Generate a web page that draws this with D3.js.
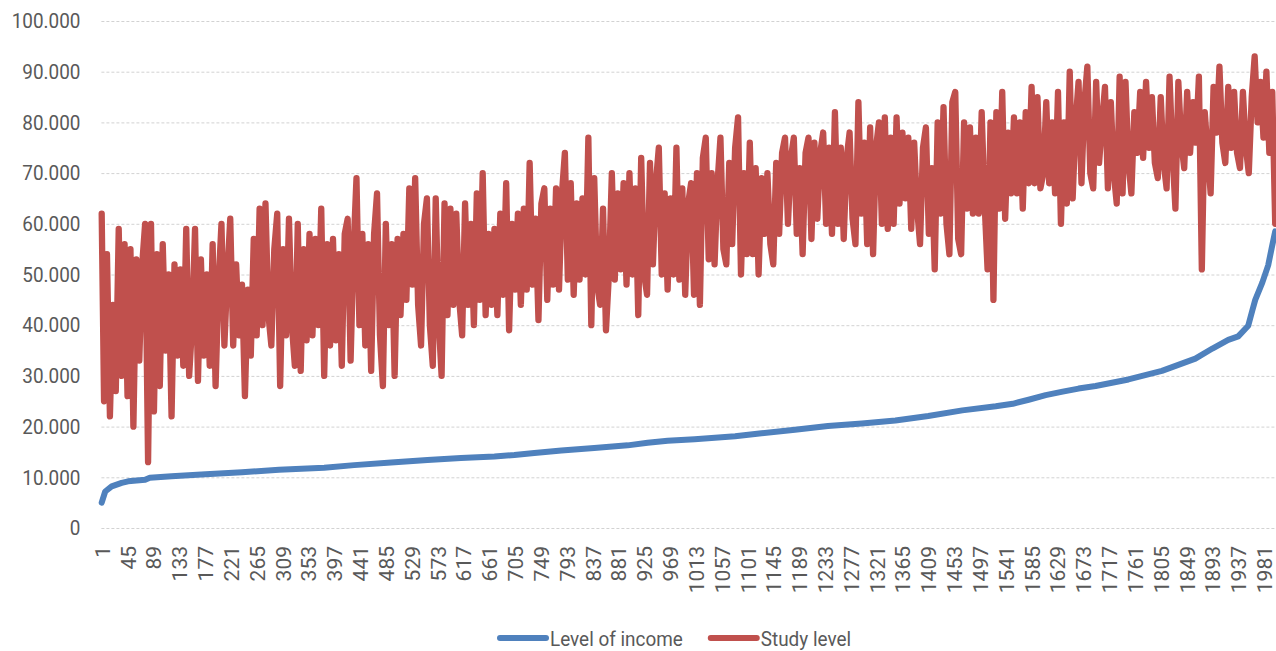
<!DOCTYPE html>
<html>
<head>
<meta charset="utf-8">
<script src="https://cdn.jsdelivr.net/npm/d3@7"></script>
<style>
body { margin: 0; background: #fff; }
svg text { font-family: Roboto, "Open Sans", sans-serif; }
</style>
</head>
<body>
<svg id="chart" width="1276" height="651"></svg>
<script>
// values in thousands (10 -> "10.000")
var yTicks = [0, 10, 20, 30, 40, 50, 60, 70, 80, 90, 100];

var xTickCats = [1, 45, 89, 133, 177, 221, 265, 309, 353, 397, 441, 485, 529, 573, 617, 661, 705, 749, 793, 837, 881, 925, 969, 1013, 1057, 1101, 1145, 1189, 1233, 1277, 1321, 1365, 1409, 1453, 1497, 1541, 1585, 1629, 1673, 1717, 1761, 1805, 1849, 1893, 1937, 1981];

var nCats = 2000;

var seriesNames = ["Level of income", "Study level"];
var seriesColors = ["#4F81BD", "#C0504D"];

// level of income, read at these categories
var incomeCats = [1, 7, 18, 35, 46, 75, 83, 120, 178, 240, 303, 380, 431, 494, 556, 613, 670, 704, 738, 784, 840, 897, 931, 965, 1011, 1080, 1125, 1182, 1238, 1296, 1353, 1409, 1467, 1524, 1553, 1580, 1609, 1638, 1665, 1694, 1750, 1807, 1864, 1893, 1920, 1937, 1954, 1961, 1966, 1978, 1988, 1994, 2000];
var incomeLevel = [5.0, 7.2, 8.2, 8.9, 9.2, 9.5, 9.9, 10.2, 10.6, 11.0, 11.5, 11.9, 12.4, 12.9, 13.4, 13.8, 14.1, 14.4, 14.8, 15.3, 15.8, 16.3, 16.8, 17.2, 17.5, 18.1, 18.7, 19.4, 20.1, 20.6, 21.2, 22.1, 23.2, 24.0, 24.5, 25.3, 26.2, 26.9, 27.5, 28.0, 29.3, 31.0, 33.4, 35.4, 37.1, 37.8, 39.9, 42.9, 45.0, 48.4, 51.8, 55.2, 58.5];

// study level, read every 5th category
var studyCats = [1].concat(d3.range(5, nCats + 1, 5));
var studyLevel = [62,
  25, 54, 22, 44, 27, 59, 30, 56, 26, 55,
  20, 53, 33, 52, 60, 13, 60, 23, 54, 28,
  56, 35, 50, 22, 52, 34, 51, 32, 59, 30,
  40, 59, 29, 53, 34, 50, 32, 56, 28, 48,
  60, 36, 50, 61, 36, 52, 38, 48, 26, 47,
  34, 57, 38, 63, 40, 64, 42, 36, 55, 62,
  28, 55, 38, 61, 40, 32, 60, 31, 55, 37,
  58, 38, 57, 40, 63, 30, 56, 36, 57, 37,
  54, 32, 58, 61, 33, 55, 69, 40, 58, 36,
  56, 31, 58, 66, 38, 28, 60, 40, 56, 30,
  57, 42, 58, 45, 67, 48, 69, 44, 36, 60,
  65, 40, 32, 65, 41, 30, 64, 42, 63, 44,
  62, 45, 38, 64, 44, 60, 40, 66, 45, 70,
  42, 58, 44, 59, 42, 62, 46, 68, 39, 60,
  47, 62, 44, 63, 47, 72, 48, 61, 41, 64,
  67, 45, 63, 48, 67, 47, 66, 74, 49, 68,
  46, 64, 49, 65, 50, 77, 40, 69, 48, 44,
  63, 39, 50, 70, 49, 66, 51, 68, 48, 70,
  50, 67, 42, 73, 50, 46, 72, 52, 68, 75,
  50, 66, 47, 65, 50, 75, 49, 67, 46, 64,
  68, 46, 70, 44, 73, 77, 53, 70, 52, 68,
  77, 55, 52, 72, 56, 75, 81, 50, 70, 54,
  76, 54, 71, 50, 69, 58, 70, 56, 52, 72,
  58, 74, 77, 60, 73, 77, 58, 71, 54, 74,
  77, 57, 76, 61, 74, 78, 60, 75, 58, 82,
  60, 75, 57, 73, 78, 61, 56, 84, 62, 76,
  56, 79, 54, 75, 80, 60, 81, 59, 77, 60,
  81, 64, 78, 65, 77, 59, 76, 63, 56, 75,
  79, 58, 71, 51, 80, 62, 83, 60, 54, 84,
  86, 57, 54, 80, 63, 79, 62, 77, 62, 82,
  64, 51, 80, 45, 82, 63, 86, 61, 78, 66,
  81, 66, 80, 63, 82, 68, 87, 68, 85, 67,
  70, 84, 68, 80, 66, 86, 60, 80, 64, 90,
  65, 80, 88, 68, 84, 91, 70, 67, 88, 72,
  80, 87, 67, 84, 70, 64, 89, 66, 88, 72,
  66, 82, 74, 86, 73, 88, 75, 85, 72, 69,
  85, 72, 67, 89, 74, 63, 88, 76, 71, 86,
  74, 84, 76, 89, 51, 82, 74, 66, 87, 78,
  91, 76, 72, 87, 75, 86, 74, 71, 86, 75,
  70, 85, 93, 80, 88, 77, 90, 74, 86, 60];

var svg = d3.select("#chart");
var textColor = "#595959";
var fontFamily = "Roboto, 'Open Sans', sans-serif";

var x = d3.scaleLinear().domain([0.5, nCats + 0.5]).range([101.4, 1275.5]);
var y = d3.scaleLinear().domain([0, 100]).range([528, 21]);

var dotFmt = d3.formatLocale({ decimal: ",", thousands: ".", grouping: [3], currency: ["", ""] }).format(",");

// gridlines
svg.append("g")
  .selectAll("line")
  .data(yTicks)
  .join("line")
  .attr("x1", x.range()[0])
  .attr("x2", 1276)
  .attr("y1", function (d) { return y(d) + 0.5; })
  .attr("y2", function (d) { return y(d) + 0.5; })
  .attr("stroke", "#d2d2d2")
  .attr("stroke-dasharray", "3,2");

// y axis
var yAxis = svg.append("g")
  .attr("transform", "translate(" + x.range()[0] + ",0)")
  .call(d3.axisLeft(y).tickValues(yTicks).tickSize(0).tickPadding(21)
    .tickFormat(function (d) { return dotFmt(d * 1000); }));
yAxis.attr("font-size", 21).attr("font-family", fontFamily).style("color", textColor);
yAxis.select(".domain").remove();
yAxis.selectAll("text").each(function () {
  var w = this.getComputedTextLength();
  d3.select(this).attr("textLength", w * 0.9).attr("lengthAdjust", "spacingAndGlyphs");
});

// x axis
var xAxis = svg.append("g")
  .attr("transform", "translate(0," + y(0) + ")")
  .call(d3.axisBottom(x).tickValues(xTickCats).tickSize(0).tickPadding(0).tickFormat(d3.format("d")));
xAxis.attr("font-size", 21).attr("font-family", fontFamily).style("color", textColor);
xAxis.select(".domain").remove();
xAxis.selectAll("text")
  .attr("text-anchor", "end")
  .attr("transform", "rotate(-90)")
  .attr("x", -18)
  .attr("y", 0)
  .attr("dy", "0.36em");

// series
var line = d3.line()
  .x(function (d) { return x(d[0]); })
  .y(function (d) { return y(d[1]); });

svg.append("path")
  .datum(d3.zip(incomeCats, incomeLevel))
  .attr("d", line)
  .attr("fill", "none")
  .attr("stroke", seriesColors[0])
  .attr("stroke-width", 6)
  .attr("stroke-linejoin", "round")
  .attr("stroke-linecap", "round");

svg.append("path")
  .datum(d3.zip(studyCats, studyLevel))
  .attr("d", line)
  .attr("fill", "none")
  .attr("stroke", seriesColors[1])
  .attr("stroke-width", 6.3)
  .attr("stroke-linejoin", "round")
  .attr("stroke-linecap", "round");

// legend
var legend = svg.append("g").attr("font-size", 21).attr("font-family", fontFamily);
var lx = 498, ly = 638;
seriesNames.forEach(function (name, i) {
  var g = legend.append("g").attr("transform", "translate(" + lx + "," + ly + ")");
  g.append("line")
    .attr("x1", 2).attr("x2", 48)
    .attr("y1", 0).attr("y2", 0)
    .attr("stroke", seriesColors[i])
    .attr("stroke-width", 6)
    .attr("stroke-linecap", "round");
  var t = g.append("text")
    .attr("fill", textColor)
    .attr("x", 52)
    .attr("dy", "0.36em")
    .text(name);
  var w = t.node().getComputedTextLength() * 0.9;
  t.attr("textLength", w).attr("lengthAdjust", "spacingAndGlyphs");
  lx += 52 + w + 26;
});
</script>
</body>
</html>
